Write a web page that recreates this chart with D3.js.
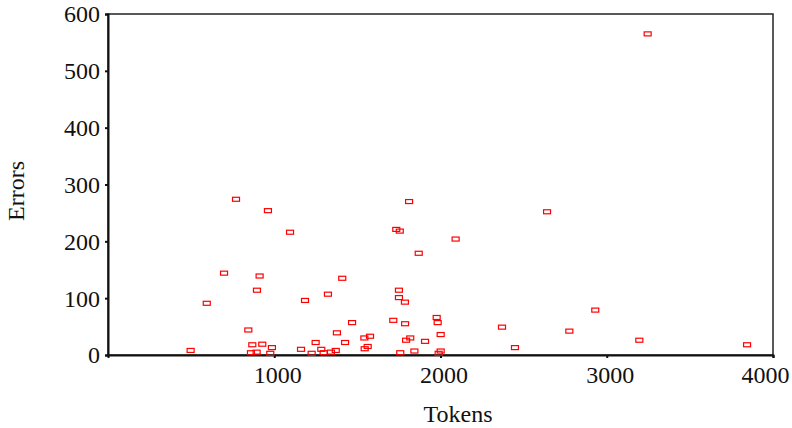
<!DOCTYPE html>
<html>
<head>
<meta charset="utf-8">
<script src="https://cdn.jsdelivr.net/npm/d3@7"></script>
<style>
  html, body { margin: 0; padding: 0; background: #fff; }
  svg { display: block; }
</style>
</head>
<body>
<svg id="chart" width="792" height="428"></svg>
<script>
// Token counts per document
const tokens = [497, 594, 698, 770, 844, 868, 860, 896, 894, 912, 928, 962, 976, 986,
  1095, 1161, 1185, 1225, 1249, 1283, 1297, 1323, 1341, 1370, 1377, 1409, 1426, 1468,
  1542, 1544, 1562, 1576, 1716, 1734, 1755, 1750, 1750, 1758, 1787, 1793, 1786, 1811,
  1818, 1843, 1869, 1907, 1977, 1983, 2001, 2001, 1989, 2091, 2370, 2448, 2641, 2775,
  2931, 3196, 3246, 3844];
// Error counts for the same documents
const errors = [8, 91, 144, 274, 44, 18, 4, 114, 5, 139, 19, 254, 3, 13,
  216, 10, 96, 3, 22, 10, 4, 107, 5, 8, 39, 135, 22, 57,
  30, 11, 15, 33, 61, 221, 218, 114, 101, 4, 55, 26, 93, 270,
  30, 7, 179, 24, 66, 57, 36, 7, 3, 204, 49, 13, 252, 42,
  79, 26, 565, 18];

const xTicks = [1000, 2000, 3000, 4000];
const yTicks = [0, 100, 200, 300, 400, 500, 600];

const points = tokens.map((t, i) => ({ t, e: errors[i] }));

const serif = "'Liberation Serif', 'Times New Roman', serif";
const svg = d3.select("#chart");
const plot = { left: 108, right: 773, top: 14, bottom: 355 };

const x = d3.scaleLinear().domain([0, 4000]).range([plot.left, plot.right]);
const y = d3.scaleLinear().domain([0, 600]).range([plot.bottom, plot.top]);

// plot frame (top and right edges)
svg.append("rect")
  .attr("x", plot.left).attr("y", plot.top)
  .attr("width", plot.right - plot.left).attr("height", plot.bottom - plot.top)
  .attr("fill", "none").attr("stroke", "#222").attr("stroke-width", 1.5);

// y axis
const yAxis = svg.append("g")
  .attr("transform", `translate(${plot.left},0)`)
  .call(d3.axisLeft(y).tickValues(yTicks).tickSize(3).tickPadding(5).tickFormat(d3.format("d")));
yAxis.attr("font-family", null).attr("font-size", null);
yAxis.select(".domain").attr("stroke", "#111").attr("stroke-width", 2);
yAxis.selectAll(".tick line").attr("stroke", "#111").attr("stroke-width", 2);
yAxis.selectAll(".tick text")
  .style("font-family", serif).style("font-size", "24px").attr("fill", "#111")
  .attr("dy", "0.33em");

// x axis
const xAxis = svg.append("g")
  .attr("transform", `translate(0,${plot.bottom})`)
  .call(d3.axisBottom(x).tickValues(xTicks).tickSize(3).tickPadding(8).tickFormat(d3.format("d")));
xAxis.attr("font-family", null).attr("font-size", null);
xAxis.select(".domain").attr("stroke", "#111").attr("stroke-width", 2);
xAxis.selectAll(".tick line").attr("stroke", "#111").attr("stroke-width", 2);
xAxis.selectAll(".tick text")
  .style("font-family", serif).style("font-size", "24px").attr("fill", "#111")
  .attr("dx", d => d === 4000 ? -8 : 3);

// axis titles
svg.append("text")
  .attr("x", 458).attr("y", 422)
  .attr("text-anchor", "middle")
  .style("font-family", serif).style("font-size", "24px").attr("fill", "#111")
  .text("Tokens");

svg.append("text")
  .attr("transform", "translate(24,191) rotate(-90)")
  .attr("text-anchor", "middle")
  .style("font-family", serif).style("font-size", "24px").attr("fill", "#111")
  .text("Errors");

// markers: small hollow red rectangles
svg.append("g")
  .selectAll("rect")
  .data(points)
  .join("rect")
  .attr("x", d => x(d.t) - 3.5)
  .attr("y", d => y(d.e) - 2)
  .attr("width", 7)
  .attr("height", 4)
  .attr("fill", "none")
  .attr("stroke", "#f00")
  .attr("stroke-width", 1.2);
</script>
</body>
</html>
